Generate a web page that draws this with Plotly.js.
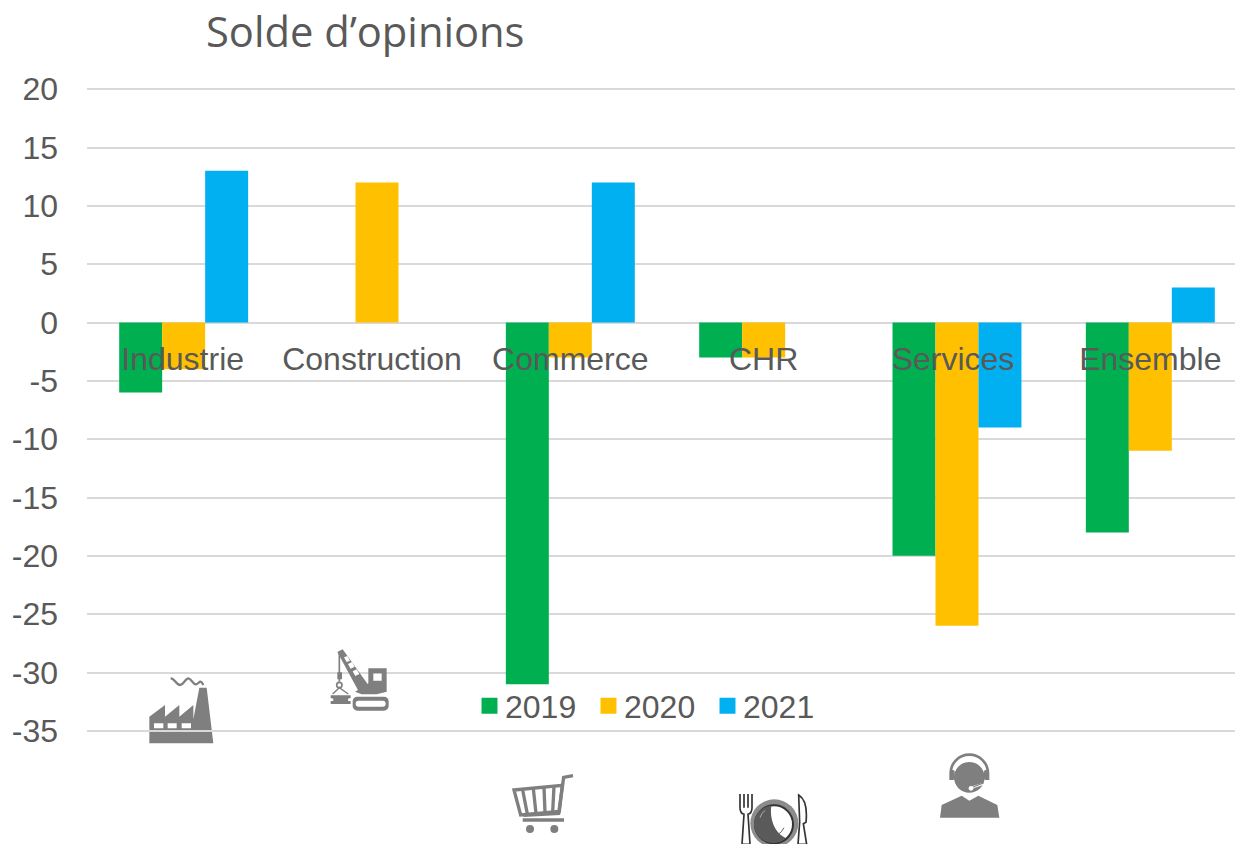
<!DOCTYPE html>
<html><head><meta charset="utf-8">
<script src="https://cdn.plot.ly/plotly-3.0.1.min.js"></script>
<style>html,body{margin:0;padding:0;background:#fff;overflow:hidden}</style></head>
<body><div id="chart" style="width:1235px;height:844px"></div>
<script>
const categories = ['Industrie','Construction','Commerce','CHR','Services','Ensemble'];
const values2019 = [-6, null, -31, -3, -20, -18];
const values2020 = [-4, 12, -3, -3, -26, -11];
const values2021 = [13, null, 12, null, -9, 3];
const seriesNames = ['2019','2020','2021'];
const seriesColors = ['#00B050','#FFC000','#00B0F0'];
const yTicks = [20,15,10,5,0,-5,-10,-15,-20,-25,-30,-35];
const labelNudge = {Construction:-5, Services:-4, Industrie:-1};

const W=1235,H=844,L=87,T=88,B=732;
const G='#7f7f7f';
const svg=(vb,w,h,body)=>'data:image/svg+xml;utf8,'+encodeURIComponent(`<svg xmlns="http://www.w3.org/2000/svg" width="${w*3}" height="${h*3}" viewBox="${vb}">${body}</svg>`);
const factory=`<path fill="${G}" d="M88 310V230L135 195V230L178 195V230L220 195V238L238 143H260L280 310Z"/><path fill="#fff" d="M102 250H130V265H102ZM143 250H170V265H143ZM185 250H213V265H185Z"/><path fill="none" stroke="${G}" stroke-width="7" d="M152 115C165 115 168 135 180 135C192 135 195 115 205 115C215 115 218 135 228 133C238 131 240 115 250 135"/>`;
const crane=`<path fill="${G}" fill-rule="evenodd" d="M712 170H792A14 14 0 0 1 806 184V198A14 14 0 0 1 792 212H712A14 14 0 0 1 698 198V184A14 14 0 0 1 712 170ZM716 182A9 9 0 0 0 716 200H788A9 9 0 0 0 788 182Z"/><path fill="${G}" fill-rule="evenodd" d="M745 85H800V155L770 163H725L705 155L740 135L745 130ZM760 100V122H785V100Z"/><path fill="${G}" d="M652 36L668 28L745 135L715 152Z"/><path fill="#fff" d="M672 52L682 48L690 62L680 66ZM684 72L696 66L704 80L692 86ZM698 94L710 88L718 102L706 108Z"/><path fill="none" stroke="${G}" stroke-width="5" d="M658 38V125"/><circle cx="658" cy="135" r="8" fill="none" stroke="${G}" stroke-width="5"/><path fill="none" stroke="${G}" stroke-width="4" d="M638 162L658 143L685 162"/><path fill="${G}" d="M652 97H666V118H652ZM632 166H692V174L684 176V182L692 184V192H632V184L640 182V176L632 174Z"/>`;
const cart=`<g fill="none" stroke="${G}" stroke-width="10"><path d="M309 287L281 292L266 400L160 406"/><path d="M132 330L277 316L268 394L152 405Z"/><path d="M158 330L172 402M190 326L198 400M222 322L225 398M252 318L248 396"/><path stroke-width="11" d="M158 420H282"/></g><circle cx="180" cy="447" r="12" fill="${G}"/><circle cx="253" cy="447" r="12" fill="${G}"/>`;
const plate=`<circle cx="133" cy="115" r="72" fill="#8c8c8c"/><circle cx="132" cy="118" r="57" fill="#fff" stroke="#333" stroke-width="6"/><path d="M124 62A56 56 0 0 0 132 174Q148 174 168 160C135 145 118 105 124 62Z" fill="#5a5a5a"/><path d="M90 98Q94 84 106 76" fill="none" stroke="#aaa" stroke-width="3"/><path d="M142 150Q156 142 162 128" fill="none" stroke="#666" stroke-width="3"/><g fill="none" stroke="#333" stroke-width="5"><path d="M30 27V68Q30 84 42 88L36 178H60L54 88Q66 84 66 68V27M42 27V68M54 27V68"/><path d="M206 30C226 42 232 72 228 112L220 116L230 178H204L209 112Z"/></g>`;
const headset=`<circle cx="208" cy="112" r="46" fill="${G}"/><path d="M152 120V100A56 56 0 0 1 264 100V120" fill="none" stroke="${G}" stroke-width="8"/><path d="M163 92A47 47 0 0 1 253 92" fill="none" stroke="#fff" stroke-width="6"/><rect x="150" y="90" width="14" height="30" rx="5" fill="${G}"/><rect x="252" y="90" width="14" height="30" rx="5" fill="${G}"/><path d="M120 233L125 195L185 167L208 182L235 167L292 195L298 233Z" fill="${G}"/><path d="M208 145L248 132" fill="none" stroke="#fff" stroke-width="7"/><path d="M210 145L250 129" stroke="${G}" stroke-width="3" fill="none"/><circle cx="213" cy="145" r="7" fill="#fff"/>`;
const ph=B-T,pw=W-L;
const img=(src,x,y,w,h,layer)=>({source:src,xref:'paper',yref:'paper',x:(x-L)/pw,y:1-(y-T)/ph,sizex:w/pw,sizey:h/ph,sizing:'stretch',xanchor:'left',yanchor:'top',layer:layer});

const trace=(i,v)=>({type:'bar',name:seriesNames[i],x:categories,y:v,marker:{color:seriesColors[i],line:{width:0}},hoverinfo:'x+y+name'});
const data=[trace(0,values2019),trace(1,values2020),trace(2,values2021)];
const font='"Liberation Sans", Arial, sans-serif';
const layout={
  width:W,height:H,autosize:false,paper_bgcolor:'#fff',plot_bgcolor:'#fff',
  margin:{l:L,r:0,t:T,b:H-B,pad:0},
  barmode:'group',bargap:0.333,bargroupgap:0,
  title:{text:'Solde d’opinions',font:{family:'"Open Sans", sans-serif',size:41.7,color:'#595959'},xref:'paper',x:(206-L)/pw,xanchor:'left',y:1-32/H,yanchor:'middle'},
  xaxis:{type:'category',categoryorder:'array',categoryarray:categories,range:[-0.5,(W-L)/193.33-0.5],anchor:'free',position:35.1/55.2,showgrid:false,zeroline:false,showline:false,ticks:'',ticklabelstandoff:14,tickangle:0,tickfont:{family:font,size:32,color:'#595959'}},
  yaxis:{range:[-35.1,20.1],tickvals:yTicks,ticktext:yTicks.map(String),showgrid:true,gridcolor:'#D9D9D9',gridwidth:2,zeroline:true,zerolinecolor:'#D9D9D9',zerolinewidth:2,showline:false,ticks:'',ticklabelstandoff:28,tickfont:{family:font,size:32,color:'#595959'}},
  legend:{orientation:'h',x:(465-L)/pw,xanchor:'left',y:1-(706-T)/ph,yanchor:'middle',entrywidth:74,entrywidthmode:'pixels',traceorder:'normal',bgcolor:'rgba(0,0,0,0)',font:{family:font,size:32,color:'#595959'}},
  images:[
    img(svg('80 105 210 210',70,70,factory),146.67,675,70,70,'below'),
    img(svg('625 20 190 195',63.33,65,crane),328.33,646.67,63.33,65,'above'),
    img(svg('125 278 190 185',63.33,61.67,cart),511.67,772.67,63.33,61.67,'above'),
    img(svg('0 0 255 177',85,59,plate),730,785,85,59,'above'),
    img(svg('115 38 188 200',62.67,66.67,headset),938.33,752.67,62.67,66.67,'above')
  ]
};
Plotly.newPlot('chart',data,layout,{displayModeBar:false}).then(gd=>{
  gd.querySelectorAll('.legendpoints path').forEach(p=>{
    p.setAttribute('transform',(p.getAttribute('transform')||'')+' translate(4.5,0) scale(1.33)');
  });
  gd.querySelectorAll('.xtick text').forEach(t=>{
    const n=labelNudge[t.textContent]; if(n) t.setAttribute('dx',n);
  });
});
</script></body></html>
